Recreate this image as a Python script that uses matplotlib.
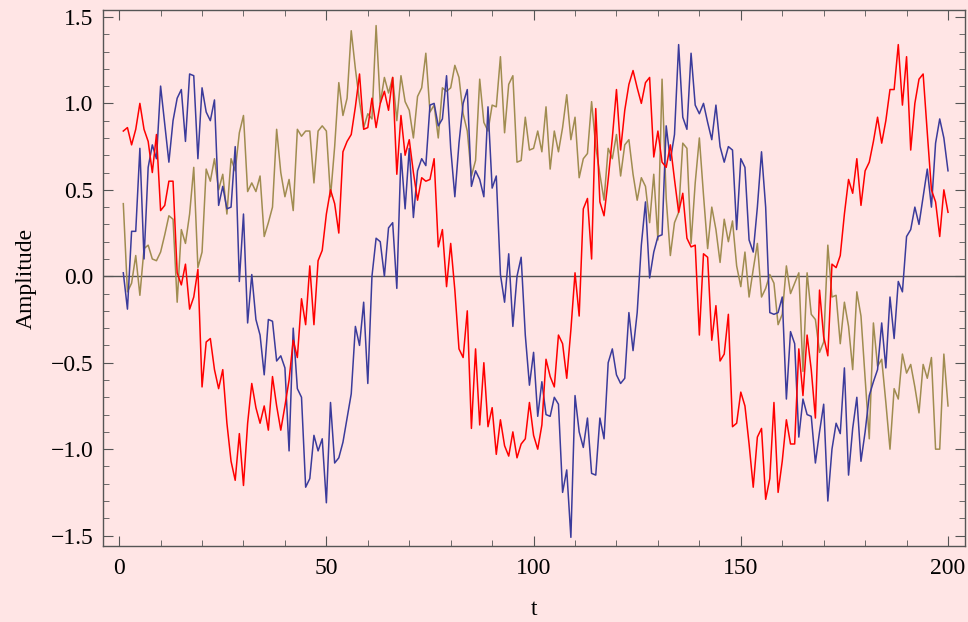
import numpy as np
import matplotlib
matplotlib.use("Agg")
import matplotlib.pyplot as plt
from matplotlib.ticker import MultipleLocator

t = np.arange(1, 201)

rojo = [0.84, 0.86, 0.76, 0.85, 1.00, 0.85, 0.78, 0.60, 0.82, 0.38, 0.41, 0.55, 0.55, 0.02, -0.05, 0.07, -0.19, -0.12, 0.04, -0.64, -0.38, -0.36, -0.54, -0.65,
        -0.54, -0.85, -1.07, -1.18, -0.91, -1.21, -0.85, -0.62, -0.76, -0.85, -0.75, -0.89, -0.58, -0.75, -0.89, -0.75, -0.60, -0.37, -0.47, -0.13, -0.28, 0.06, -0.28, 0.09,
        0.15, 0.36, 0.50, 0.42, 0.25, 0.72, 0.78, 0.82, 0.98, 1.17, 0.85, 0.86, 1.03, 0.86, 1.00, 1.07, 0.96, 1.15, 0.59, 0.93, 0.70, 0.79, 0.60, 0.44,
        0.57, 0.55, 0.56, 0.68, 0.17, 0.27, -0.06, 0.19, -0.08, -0.42, -0.47, -0.20, -0.88, -0.42, -0.86, -0.50, -0.87, -0.76, -1.03, -0.83, -0.98, -1.04, -0.90, -1.05,
        -0.97, -0.94, -0.73, -0.92, -1.00, -0.86, -0.48, -0.58, -0.64, -0.34, -0.39, -0.59, -0.31, 0.02, -0.23, 0.39, 0.45, 0.10, 0.97, 0.43, 0.35, 0.56, 0.80, 1.08, 0.73,
        0.96, 1.11, 1.19, 1.09, 1.00, 1.12, 1.15, 0.69, 0.84, 0.66, 0.63, 0.76, 0.56, 0.37, 0.48, 0.22, 0.17, 0.18, -0.34, 0.13, 0.11, -0.37, -0.17, -0.49,
        -0.45, -0.22, -0.87, -0.85, -0.67, -0.75, -0.97, -1.22, -0.93, -0.88, -1.29, -1.17, -0.73, -1.25, -1.07, -0.83, -0.97, -0.97, -0.42, -0.69, -0.34, -0.54, -0.82, -0.08,
        -0.35, -0.46, 0.07, 0.05, 0.12, 0.36, 0.56, 0.48, 0.68, 0.41, 0.61, 0.66, 0.78, 0.92, 0.77, 0.90, 1.08, 1.08, 1.34, 0.99, 1.27, 0.73, 1.00, 1.14, 1.17, 0.83, 0.50, 0.43, 0.23, 0.50, 0.37]

azul = [0.02, -0.19, 0.26, 0.26, 0.74, 0.10, 0.63, 0.76, 0.68, 1.10, 0.88, 0.66, 0.90, 1.03, 1.08, 0.78, 1.17, 1.16, 0.68, 1.09, 0.95, 0.90, 1.02, 0.41,
        0.52, 0.39, 0.40, 0.75, -0.03, 0.36, -0.27, 0.01, -0.25, -0.34, -0.57, -0.25, -0.26, -0.49, -0.46, -0.53, -1.01, -0.30, -0.65, -0.70, -1.22, -1.17, -0.92, -1.01,
        -0.94, -1.31, -0.73, -1.08, -1.05, -0.96, -0.82, -0.68, -0.29, -0.40, -0.15, -0.62, 0.00, 0.22, 0.20, 0.00, 0.28, 0.31, -0.07, 0.71, 0.39, 0.74, 0.34, 0.61,
        0.68, 0.64, 0.99, 1.00, 0.87, 0.91, 1.16, 0.74, 0.46, 0.77, 1.00, 1.08, 0.52, 0.61, 0.56, 0.46, 0.98, 0.51, 0.58, 0.01, -0.15, 0.13, -0.29, 0.00,
        0.11, -0.34, -0.63, -0.44, -0.81, -0.61, -0.80, -0.81, -0.70, -0.74, -1.25, -1.12, -1.51, -0.69, -0.90, -0.99, -0.82, -1.14, -1.15, -0.82, -0.94, -0.50, -0.42, -0.57,
        -0.62, -0.59, -0.21, -0.43, -0.21, 0.18, 0.43, -0.01, 0.14, 0.23, 0.24, 0.87, 0.67, 0.82, 1.34, 0.92, 0.85, 1.29, 0.99, 0.94, 1.00, 0.89, 0.79, 0.99,
        0.75, 0.66, 0.75, 0.73, 0.27, 0.68, 0.63, 0.21, 0.14, 0.40, 0.72, 0.40, -0.21, -0.22, -0.21, -0.12, -0.71, -0.32, -0.39, -0.93, -0.71, -0.80, -0.81, -1.08, -0.90,
        -0.74, -1.30, -1.00, -0.85, -0.91, -0.53, -1.15, -0.88, -0.70, -1.07, -0.90, -0.69, -0.61, -0.54, -0.27, -0.53, -0.12, -0.36, -0.03, -0.09, 0.23, 0.27, 0.40, 0.30, 0.46, 0.62, 0.40, 0.77, 0.91, 0.80, 0.61]

oliva = [0.42, -0.09, -0.04, 0.12, -0.11, 0.16, 0.18, 0.10, 0.09, 0.14, 0.24, 0.35, 0.33, -0.15, 0.27, 0.19, 0.36, 0.63, 0.05, 0.14, 0.62, 0.55, 0.68, 0.50,
         0.59, 0.36, 0.68, 0.61, 0.83, 0.93, 0.49, 0.54, 0.49, 0.58, 0.23, 0.31, 0.40, 0.85, 0.60, 0.46, 0.56, 0.38, 0.85, 0.81, 0.84, 0.84, 0.54, 0.84,
         0.87, 0.84, 0.46, 0.75, 1.12, 0.93, 1.03, 1.42, 1.20, 1.01, 0.86, 0.94, 0.91, 1.45, 1.00, 1.15, 1.06, 1.15, 0.90, 1.16, 1.01, 0.96, 0.80, 1.04,
         1.09, 1.29, 0.95, 0.99, 0.80, 1.09, 1.07, 1.09, 1.22, 1.15, 0.94, 0.84, 0.58, 0.67, 1.14, 0.89, 0.84, 0.99, 0.98, 1.27, 0.83, 1.11, 1.16, 0.66,
         0.67, 0.92, 0.73, 0.74, 0.84, 0.72, 0.98, 0.62, 0.84, 0.72, 0.86, 1.05, 0.79, 0.92, 0.57, 0.68, 0.71, 1.01, 0.75, 0.59, 0.44, 0.74, 0.68, 0.82,
         0.58, 0.76, 0.79, 0.59, 0.44, 0.57, 0.52, 0.31, 0.59, 0.21, 1.14, 0.45, 0.12, 0.31, 0.37, 0.77, 0.74, 0.19, 0.54, 0.80, 0.47, 0.16, 0.40, 0.27,
         0.08, 0.33, 0.20, 0.32, 0.06, -0.06, 0.14, -0.12, 0.04, 0.19, -0.12, -0.07, 0.01, -0.04, -0.28, -0.22, 0.06, -0.10, -0.04, 0.02, -0.55, 0.02, -0.22, -0.25, -0.44,
         -0.38, 0.18, -0.12, -0.11, -0.39, -0.15, -0.29, -0.54, -0.09, -0.23, -0.59, -0.94, -0.27, -0.52, -0.48, -0.73, -1.00, -0.65, -0.71, -0.45, -0.56, -0.51, -0.64, -0.79, -0.51, -0.59, -0.47, -1.00, -1.00, -0.45, -0.75]

fondo = "#FFE5E5"
plt.rcParams["font.family"] = ["Liberation Serif", "DejaVu Serif"]

fig = plt.figure(figsize=(9.68, 6.22), dpi=100, facecolor=fondo)
ax = fig.add_axes([0.1064, 0.1222, 0.8905, 0.8617], facecolor=fondo)

ax.axhline(0, color="#555555", lw=1.0, zorder=1)
ax.plot(t, oliva, color="#A08C50", lw=1.1, zorder=2)
ax.plot(t, azul, color="#3B3B9B", lw=1.1, zorder=3)
ax.plot(t, rojo, color="#FF0000", lw=1.1, zorder=4)

ax.set_xlim(-3.9, 204.1)
ax.set_ylim(-1.56, 1.54)
ax.xaxis.set_major_locator(MultipleLocator(50))
ax.xaxis.set_minor_locator(MultipleLocator(10))
ax.yaxis.set_major_locator(MultipleLocator(0.5))
ax.yaxis.set_minor_locator(MultipleLocator(0.1))
ax.yaxis.set_major_formatter(lambda v, p: f"{v:.1f}".replace("-", "\u2212"))
ax.tick_params(which="both", direction="in", top=True, right=True, colors="#555555", labelcolor="black", labelsize=17)
ax.tick_params(which="major", length=7, width=0.8)
ax.tick_params(which="minor", length=4, width=0.6)
ax.tick_params(axis="x", pad=9)
ax.tick_params(axis="y", pad=7)
for s in ax.spines.values():
    s.set_color("#555555")
    s.set_linewidth(1.0)

ax.set_xlabel("t", fontsize=17, labelpad=14)
ax.set_ylabel("Amplitude", fontsize=17, labelpad=10)

plt.savefig("out.png", dpi=100, facecolor=fondo)
